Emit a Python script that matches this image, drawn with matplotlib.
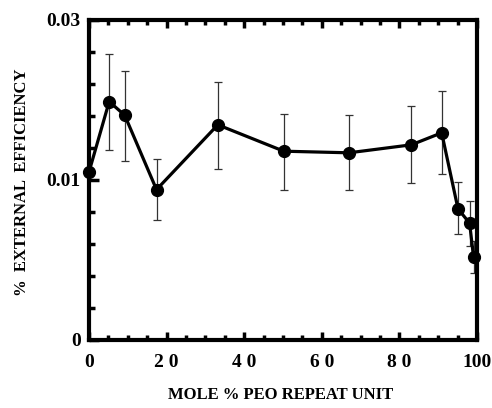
import numpy as np
import matplotlib
matplotlib.use("Agg")
import matplotlib.pyplot as plt
from matplotlib.ticker import FixedLocator, FixedFormatter

plt.rcParams['font.family'] = ['Liberation Serif', 'DejaVu Serif']
plt.rcParams['font.weight'] = 'bold'

# mole % PEO repeat unit vs % external efficiency
mole_pct = [0, 5.2, 9.2, 17.4, 33.2, 50.2, 67.0, 83.1, 90.9, 95.1, 98.1, 99.1]
efficiency = [0.0110, 0.0198, 0.0181, 0.0094, 0.0169, 0.0136, 0.0134, 0.0144, 0.0159, 0.0082, 0.0073, 0.0052]
err_hi = [np.nan, 0.0257, 0.0236, 0.0126, 0.0222, 0.0183, 0.0181, 0.0193, 0.0211, 0.0099, 0.0087, 0.0062]
err_lo = [np.nan, 0.0138, 0.0124, 0.0075, 0.0114, 0.0094, 0.0094, 0.0098, 0.0108, 0.0066, 0.0059, 0.0042]

y_major = [0, 0.01, 0.03]
y_major_labels = ["0", "0.01", "0.03"]
y_minor = [0.002, 0.004, 0.006, 0.008, 0.014, 0.018, 0.022, 0.026]
x_major = [0, 20, 40, 60, 80, 100]
x_major_labels = ["0", "2 0", "4 0", "6 0", "8 0", "100"]

# piecewise axis: 0-0.01 takes the lower half, 0.01-0.03 the upper half
_data_pts = [0.0, 0.01, 0.03]
_axis_pts = [0.0, 0.5, 1.0]

def fwd(v):
    v = np.asarray(v, dtype=float)
    return np.interp(v, _data_pts, _axis_pts, left=-1, right=2)

def inv(s):
    s = np.asarray(s, dtype=float)
    return np.interp(s, _axis_pts, _data_pts)

fig = plt.figure(figsize=(4.92, 4.08), dpi=100)
ax = fig.add_axes([89/492, 68/408, (477-89)/492, (340-20)/408])
ax.set_yscale('function', functions=(fwd, inv))
ax.set_xlim(0, 100)
ax.set_ylim(0, 0.03)

x = np.array(mole_pct)
y = np.array(efficiency)
lo = y - np.array(err_lo)
hi = np.array(err_hi) - y
ax.errorbar(x[1:], y[1:], yerr=[lo[1:], hi[1:]], fmt='none', ecolor='#333333',
            elinewidth=0.9, capsize=3, capthick=0.9, zorder=2)
ax.plot(x, y, '-o', color='black', lw=2.3, ms=8.5, zorder=3, clip_on=False)

for s in ax.spines.values():
    s.set_linewidth(3)

ax.xaxis.set_major_locator(FixedLocator(x_major))
ax.xaxis.set_major_formatter(FixedFormatter(x_major_labels))
ax.xaxis.set_minor_locator(FixedLocator(list(range(5, 100, 5))))
ax.yaxis.set_major_locator(FixedLocator(y_major))
ax.yaxis.set_major_formatter(FixedFormatter(y_major_labels))
ax.yaxis.set_minor_locator(FixedLocator(y_minor))

ax.tick_params(axis='x', which='both', direction='in', top=True, bottom=True, width=2.5, labelsize=14, pad=10)
ax.tick_params(axis='x', which='major', length=6)
ax.tick_params(axis='x', which='minor', length=3.5)
ax.tick_params(axis='y', which='both', direction='in', left=True, right=False, width=2.5, labelsize=14, pad=6)
ax.tick_params(axis='y', which='major', length=7)
ax.tick_params(axis='y', which='minor', length=4.5)
for lab in ax.get_xticklabels() + ax.get_yticklabels():
    lab.set_fontweight('bold')

fig.text(281/492, 1 - 395/408, "MOLE % PEO REPEAT UNIT", ha='center', va='center',
         fontsize=12, fontweight='bold')
fig.text(22/492, 1 - 182/408, "%  EXTERNAL  EFFICIENCY", ha='center', va='center',
         rotation=90, fontsize=12, fontweight='bold')

fig.savefig("out.png", dpi=100)
